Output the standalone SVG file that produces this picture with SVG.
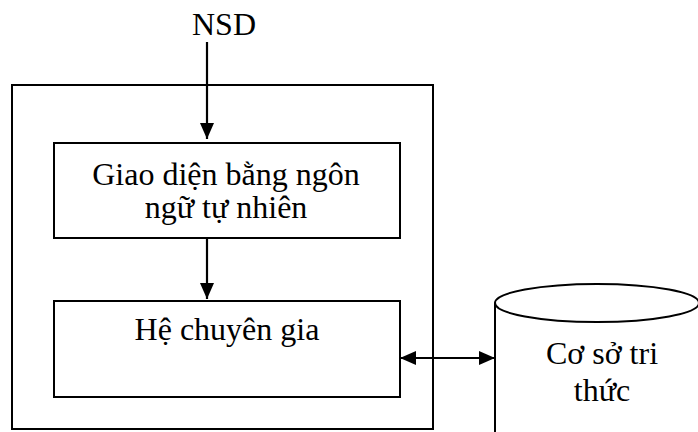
<svg xmlns="http://www.w3.org/2000/svg" width="698" height="432" viewBox="0 0 698 432">
  <style>
    .box { fill: #ffffff; stroke: #000000; stroke-width: 2; }
    .link { fill: none; stroke: #000000; stroke-width: 2.2; }
    .label { font-family: 'Liberation Serif', serif; font-size: 32px; fill: #000000; text-anchor: middle; }
  </style>
  <defs>
    <marker id="head" viewBox="0 0 16 14" refX="16" refY="7" markerWidth="16" markerHeight="14" markerUnits="userSpaceOnUse" orient="auto-start-reverse">
      <path d="M0,0 L16,7 L0,14 Z" fill="#000000"/>
    </marker>
  </defs>
  <rect width="698" height="432" fill="#ffffff"/>

  <!-- outer frame of the system -->
  <g id="system">
    <rect class="box" x="12" y="85" width="421" height="344"/>
  </g>

  <g id="nsd">
    <text class="label" x="224" y="35">NSD</text>
  </g>

  <g id="interface">
    <rect class="box" x="54" y="143" width="346" height="95"/>
    <text class="label" x="226" y="185">Giao diện bằng ngôn</text>
    <text class="label" x="226" y="218">ngữ tự nhiên</text>
  </g>

  <g id="expert">
    <rect class="box" x="54" y="301" width="346" height="96"/>
    <text class="label" x="227" y="340">Hệ chuyên gia</text>
  </g>

  <!-- knowledge base drum, running past the right and bottom edges -->
  <g id="knowledge">
    <path class="box" d="M495,303 L495,440 L699,440 L699,303"/>
    <ellipse class="box" cx="597" cy="303" rx="102" ry="19"/>
    <text class="label" x="602" y="364">Cơ sở tri</text>
    <text class="label" x="602" y="401">thức</text>
  </g>

  <g id="connectors">
    <line class="link" x1="207" y1="42" x2="207" y2="139" marker-end="url(#head)"/>
    <line class="link" x1="207" y1="238" x2="207" y2="299" marker-end="url(#head)"/>
    <line class="link" x1="400" y1="358" x2="495" y2="358" marker-start="url(#head)" marker-end="url(#head)"/>
  </g>
</svg>
